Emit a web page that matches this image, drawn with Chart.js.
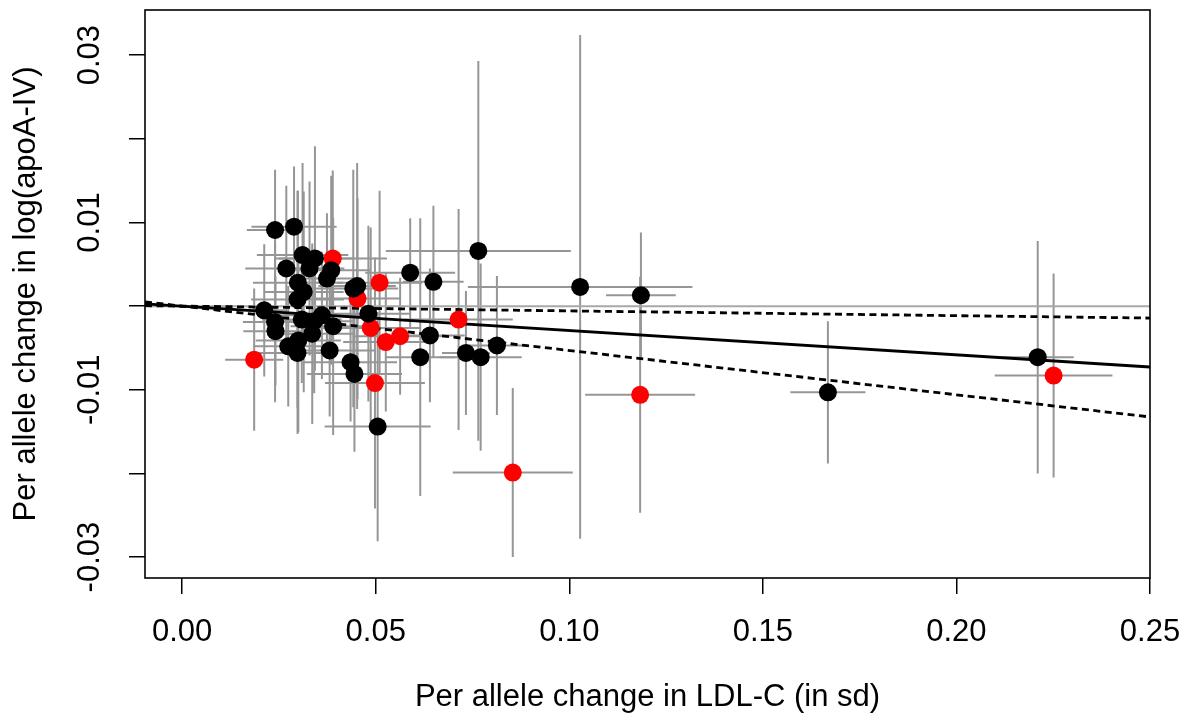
<!DOCTYPE html>
<html>
<head>
<meta charset="utf-8">
<script src="https://cdn.jsdelivr.net/npm/chart.js@4.4.1/dist/chart.umd.min.js"></script>
<style>
html,body{margin:0;padding:0;background:#fff;}
#wrap{width:1192px;height:720px;position:relative;}
</style>
</head>
<body>
<div id="wrap"><canvas id="c" width="1192" height="720"></canvas></div>
<script>
// ---- data ----
const blackLDL   = [0.0240,0.0289,0.0311,0.0343,0.0269,0.0329,0.0385,0.0374,0.0299,0.0314,0.0298,0.0442,0.0452,0.0212,0.0240,0.0241,0.0309,0.0361,0.0341,0.0336,0.0390,0.0300,0.0274,0.0298,0.0381,0.0435,0.0445,0.0481,0.0589,0.0649,0.0640,0.0615,0.0733,0.0771,0.0813,0.0765,0.0505,0.1028,0.1185,0.1668,0.2210];
const blackApo   = [0.0091,0.0095,0.0061,0.0057,0.0045,0.0045,0.0043,0.0033,0.0028,0.0017,0.0008,0.0021,0.0024,-0.0005,-0.0019,-0.0030,-0.0016,-0.0011,-0.0018,-0.0033,-0.0024,-0.0041,-0.0048,-0.0056,-0.0053,-0.0067,-0.0081,-0.0009,0.0040,0.0029,-0.0035,-0.0061,-0.0056,-0.0061,-0.0047,0.0066,-0.0144,0.0023,0.0013,-0.0103,-0.0061];
const blackLDLErr= [0.0073,0.0110,0.0118,0.0103,0.0106,0.0090,0.0103,0.0090,0.0116,0.0103,0.0120,0.0116,0.0100,0.0057,0.0083,0.0083,0.0103,0.0120,0.0100,0.0110,0.0110,0.0110,0.0090,0.0100,0.0120,0.0120,0.0123,0.0110,0.0116,0.0078,0.0090,0.0090,0.0062,0.0106,0.0078,0.0239,0.0137,0.0290,0.0090,0.0097,0.0093];
const blackApoErr= [0.0072,0.0072,0.0110,0.0134,0.0099,0.0104,0.0113,0.0078,0.0110,0.0120,0.0130,0.0142,0.0147,0.0079,0.0096,0.0065,0.0076,0.0076,0.0086,0.0108,0.0130,0.0110,0.0072,0.0097,0.0079,0.0071,0.0093,0.0105,0.0065,0.0091,0.0080,0.0166,0.0074,0.0112,0.0083,0.0227,0.0137,0.0301,0.0075,0.0085,0.0139];

const redLDL     = [0.0186,0.0389,0.0453,0.0510,0.0487,0.0526,0.0563,0.0498,0.0714,0.0854,0.1183,0.2251];
const redApo     = [-0.0064,0.0057,0.0009,0.0028,-0.0026,-0.0043,-0.0036,-0.0092,-0.0016,-0.0199,-0.0106,-0.0083];
const redLDLErr  = [0.0075,0.0140,0.0110,0.0110,0.0130,0.0110,0.0120,0.0129,0.0140,0.0155,0.0142,0.0152];
const redApoErr  = [0.0085,0.0105,0.0120,0.0110,0.0120,0.0083,0.0070,0.0150,0.0132,0.0101,0.0141,0.0122];

// fitted lines through the origin (slope estimate and CI bounds)
const slopeFit   = -0.0291;
const slopeUpper = -0.0057;
const slopeLower = -0.0530;

const xRange = [-0.0096, 0.25];
const yRange = [-0.0325, 0.0354];
const xTicks = [0.00, 0.05, 0.10, 0.15, 0.20, 0.25];
const yTicks = [-0.03, -0.02, -0.01, 0.00, 0.01, 0.02, 0.03];
const yTickLabels = {"-0.03":"-0.03","-0.01":"-0.01","0.01":"0.01","0.03":"0.03"};

const xTitle = "Per allele change in LDL-C (in sd)";
const yTitle = "Per allele change in log(apoA-IV)";

// ---- build ----
const toPts = (xs, ys) => xs.map((x, i) => ({x: x, y: ys[i]}));
const lineFor = s => xRange.map(x => ({x: x, y: s * x}));

const FONT = "'Liberation Sans', Arial, Helvetica, sans-serif";

const errorBars = {
  id: 'errorBars',
  beforeDatasetsDraw(chart) {
    const {ctx, scales: {x, y}, chartArea} = chart;
    ctx.save();
    ctx.beginPath();
    ctx.rect(chartArea.left, chartArea.top, chartArea.right - chartArea.left, chartArea.bottom - chartArea.top);
    ctx.clip();
    ctx.strokeStyle = '#969696';
    ctx.lineWidth = 2;
    const draw = (xs, ys, xe, ye) => {
      for (let i = 0; i < xs.length; i++) {
        const px = x.getPixelForValue(xs[i]);
        const py = y.getPixelForValue(ys[i]);
        ctx.beginPath();
        ctx.moveTo(x.getPixelForValue(xs[i] - xe[i]), py);
        ctx.lineTo(x.getPixelForValue(xs[i] + xe[i]), py);
        ctx.moveTo(px, y.getPixelForValue(ys[i] - ye[i]));
        ctx.lineTo(px, y.getPixelForValue(ys[i] + ye[i]));
        ctx.stroke();
      }
    };
    draw(blackLDL, blackApo, blackLDLErr, blackApoErr);
    draw(redLDL, redApo, redLDLErr, redApoErr);
    ctx.restore();
  }
};

const frame = {
  id: 'frame',
  afterDraw(chart) {
    const {ctx, chartArea: a} = chart;
    ctx.save();
    ctx.strokeStyle = '#000';
    ctx.lineWidth = 1.6;
    ctx.strokeRect(a.left, a.top, a.right - a.left, a.bottom - a.top);
    ctx.restore();
  }
};

new Chart(document.getElementById('c'), {
  type: 'scatter',
  data: {
    datasets: [
      {label: 'black', data: toPts(blackLDL, blackApo), backgroundColor: '#000', borderWidth: 0, pointRadius: 9, order: 0},
      {label: 'red', data: toPts(redLDL, redApo), backgroundColor: '#ff0000', borderWidth: 0, pointRadius: 9, order: 0},
      {type: 'line', label: 'fit', data: lineFor(slopeFit), borderColor: '#000', borderWidth: 2.8, pointRadius: 0, fill: false, order: 1},
      {type: 'line', label: 'upper', data: lineFor(slopeUpper), borderColor: '#000', borderWidth: 2.8, borderDash: [7, 4.5], pointRadius: 0, fill: false, order: 1},
      {type: 'line', label: 'lower', data: lineFor(slopeLower), borderColor: '#000', borderWidth: 2.8, borderDash: [7, 4.5], pointRadius: 0, fill: false, order: 1},
      {type: 'line', label: 'zero', data: lineFor(0), borderColor: '#a8a8a8', borderWidth: 2, pointRadius: 0, fill: false, order: 2}
    ]
  },
  options: {
    responsive: false,
    animation: false,
    events: [],
    layout: {padding: {left: 0, right: 42, top: 10, bottom: 0}},
    plugins: {legend: {display: false}, tooltip: {enabled: false}},
    scales: {
      x: {
        type: 'linear', min: xRange[0], max: xRange[1],
        afterBuildTicks: s => { s.ticks = xTicks.map(v => ({value: v})); },
        afterFit: s => { s.height = 142; s.paddingLeft = 0; s.paddingRight = 0; },
        grid: {display: true, drawOnChartArea: false, drawTicks: true, tickLength: 16, color: '#000', lineWidth: 1.5},
        border: {display: false},
        ticks: {autoSkip: false, maxRotation: 0, padding: 20, color: '#000',
                font: {family: FONT, size: 31, lineHeight: 1.2},
                callback: v => Number(v).toFixed(2)},
        title: {display: true, text: xTitle, color: '#000', padding: {top: 0, bottom: 4},
                font: {family: FONT, size: 31, lineHeight: 1.2}}
      },
      y: {
        type: 'linear', min: yRange[0], max: yRange[1],
        afterBuildTicks: s => { s.ticks = yTicks.map(v => ({value: v})); },
        afterFit: s => { s.width = 145; s.paddingTop = 0; s.paddingBottom = 0; },
        grid: {display: true, drawOnChartArea: false, drawTicks: true, tickLength: 16, color: '#000', lineWidth: 1.5},
        border: {display: false},
        ticks: {autoSkip: false, minRotation: 90, maxRotation: 90, crossAlign: 'center', padding: 3, color: '#000',
                font: {family: FONT, size: 31, lineHeight: 1.2},
                callback: v => yTickLabels[Number(v).toFixed(2)] || ''},
        title: {display: true, text: yTitle, color: '#000', padding: {top: 8, bottom: 0},
                font: {family: FONT, size: 31, lineHeight: 1.2}}
      }
    }
  },
  plugins: [errorBars, frame]
});
</script>
</body>
</html>
